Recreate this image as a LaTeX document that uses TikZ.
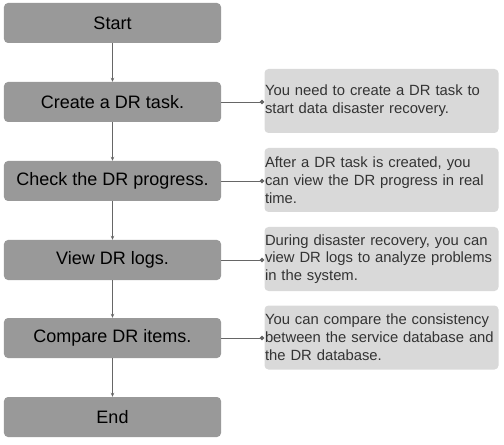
\documentclass[tikz,border=0pt]{standalone}
\usepackage{fontspec}
\setmainfont{Liberation Sans}
\usetikzlibrary{arrows.meta}
\definecolor{stepgray}{HTML}{999999}
\definecolor{notegray}{HTML}{D9D9D9}
\definecolor{linegray}{HTML}{666666}
\definecolor{notetext}{HTML}{333333}
\begin{document}
\begin{tikzpicture}[x=1bp,y=-1bp,
  stepbox/.style={draw=none,fill=stepgray,rounded corners=4bp,minimum width=217bp,minimum height=40bp,inner sep=0pt,font=\fontsize{18bp}{21bp}\selectfont,text=black},
  notebox/.style={draw=none,fill=notegray,rounded corners=4bp,minimum width=234bp,minimum height=64bp,inner sep=0pt,text width=233bp,align=left,font=\fontsize{14.8bp}{17.8bp}\selectfont,text=notetext},
  flow/.style={draw=linegray,line width=0.7bp,-{Stealth[length=4bp,width=3.5bp]}},
  link/.style={draw=linegray,line width=0.7bp,-{Circle[length=4.5bp]}}]
\useasboundingbox (0,0) rectangle (504,445);
\node[stepbox] (start) at (112.5,23) {Start};
\node[stepbox] (create) at (112.5,102) {Create a DR task.};
\node[stepbox] (check) at (112.5,181) {Check the DR progress.};
\node[stepbox] (view) at (112.5,260) {View DR logs.};
\node[stepbox] (compare) at (112.5,338) {Compare DR items.};
\node[stepbox] (end) at (112.5,417) {End};
\node[notebox] (n1) at (381.5,101) {You need to create a DR task to\\start data disaster recovery.};
\node[notebox] (n2) at (381.5,180) {After a DR task is created, you\\can view the DR progress in real\\time.};
\node[notebox] (n3) at (381.5,259) {During disaster recovery, you can\\view DR logs to analyze problems\\in the system.};
\node[notebox] (n4) at (381.5,337.5) {You can compare the consistency\\between the service database and\\the DR database.};
\draw[flow] (start) -- (create);
\draw[flow] (create) -- (check);
\draw[flow] (check) -- (view);
\draw[flow] (view) -- (compare);
\draw[flow] (compare) -- (end);
\draw[link] (create.east) -- (create.east -| n1.west);
\draw[link] (check.east) -- (check.east -| n2.west);
\draw[link] (view.east) -- (view.east -| n3.west);
\draw[link] (compare.east) -- (compare.east -| n4.west);
\end{tikzpicture}
\end{document}
